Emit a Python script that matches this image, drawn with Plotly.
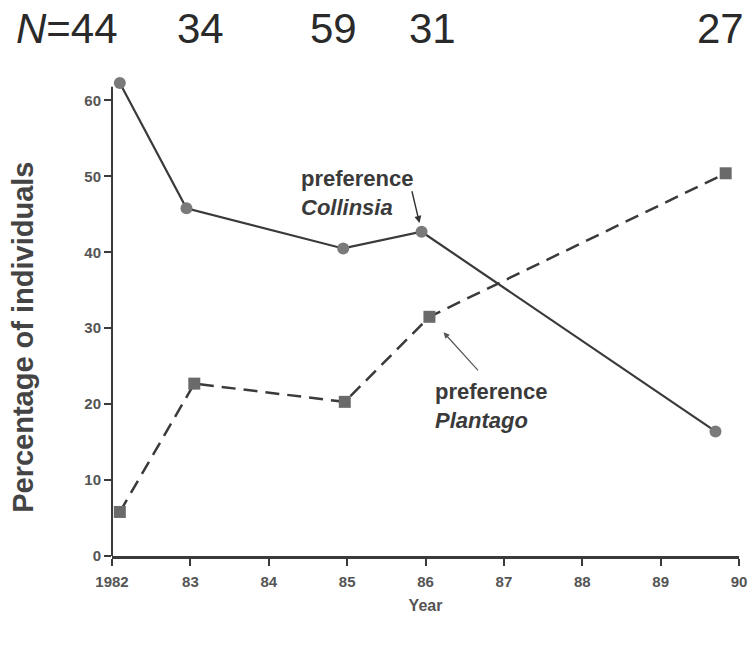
import plotly.graph_objects as go

# Data
col_years = [1982.1, 1982.95, 1984.95, 1985.95, 1989.7]
col_pct = [62.3, 45.8, 40.5, 42.7, 16.4]
pla_years = [1982.1, 1983.05, 1984.97, 1986.05, 1989.83]
pla_pct = [5.8, 22.7, 20.3, 31.5, 50.4]

tick_years = [1982, 1983, 1984, 1985, 1986, 1987, 1988, 1989, 1990]
tick_labels = ["1982", "83", "84", "85", "86", "87", "88", "89", "90"]
y_ticks = [0, 10, 20, 30, 40, 50, 60]

n_labels = ["<i>N</i>=44", "34", "59", "31", "27"]
n_xpix = [67, 200, 333, 432, 720]

OFF = 0  # body margin removed via post_script
W, H = 753, 646
y_max = 64.0
y_line_top = 61.8
unit = (556 - 100.7) / 60.0
ml = 112 - OFF
mr = W - (739 - OFF)
mb = H - (556 - OFF)
mt = (556 - y_max * unit) - OFF
pw = W - ml - mr
ph = H - mt - mb


def px_to_paper(xp, yp):
    """Convert screenshot pixel position to paper coordinates."""
    return ((xp - OFF) - ml) / pw, (H - mb - (yp - OFF)) / ph


font_lbl = "Liberation Sans, Arial, sans-serif"

fig = go.Figure()
fig.add_trace(go.Scatter(
    x=col_years, y=col_pct, mode="lines+markers",
    line=dict(color="#3a3a3a", width=2.2),
    marker=dict(symbol="circle", size=12, color="#7a7a7a"),
    cliponaxis=False, showlegend=False))
fig.add_trace(go.Scatter(
    x=pla_years, y=pla_pct, mode="lines+markers",
    line=dict(color="#3a3a3a", width=2.5, dash="14px,8px"),
    marker=dict(symbol="square", size=12, color="#6a6a6a"),
    cliponaxis=False, showlegend=False))

annotations = []
for lab, xp in zip(n_labels, n_xpix):
    px, py = px_to_paper(xp, 29)
    annotations.append(dict(
        x=px, y=py, xref="paper", yref="paper",
        text=lab, showarrow=False, xanchor="center", yanchor="middle",
        font=dict(family=font_lbl, size=42, color="#2a2a2a")))

# y axis title as annotation
tx, ty = px_to_paper(23, 338)
annotations.append(dict(
    x=tx, y=ty, xref="paper", yref="paper", text="Percentage of individuals",
    textangle=-90, showarrow=False, xanchor="center", yanchor="middle",
    font=dict(family=font_lbl, size=29, color="#444", weight="bold")))

# text labels
cx, cy = px_to_paper(357, 193)
annotations.append(dict(
    x=cx, y=cy, xref="paper", yref="paper",
    text="preference<br><i>Collinsia</i>", showarrow=False, align="left",
    xanchor="center", yanchor="middle",
    font=dict(family=font_lbl, size=22, color="#3a3a3a", weight="bold")))
px_, py_ = px_to_paper(491, 406)
annotations.append(dict(
    x=px_, y=py_, xref="paper", yref="paper",
    text="preference<br><i>Plantago</i>", showarrow=False, align="left",
    xanchor="center", yanchor="middle",
    font=dict(family=font_lbl, size=22, color="#3a3a3a", weight="bold")))
# arrows
annotations.append(dict(
    x=col_years[3], y=col_pct[3], xref="x", yref="y", text="",
    showarrow=True, arrowhead=2, arrowsize=1, arrowwidth=1.4, arrowcolor="#333",
    ax=-10, ay=-42, standoff=9))
annotations.append(dict(
    x=pla_years[3], y=pla_pct[3], xref="x", yref="y", text="",
    showarrow=True, arrowhead=2, arrowsize=1, arrowwidth=1.2, arrowcolor="#555",
    ax=50, ay=55, standoff=21))

tickfont = dict(family=font_lbl, size=15, color="#555", weight="bold")

fig.update_layout(
    width=W, height=H,
    margin=dict(l=ml, r=mr, t=mt, b=mb, autoexpand=False),
    paper_bgcolor="white", plot_bgcolor="white",
    annotations=annotations,
    shapes=[dict(type="line", xref="paper", yref="y", x0=0, x1=0, y0=0, y1=y_line_top,
                 line=dict(color="#3a3a3a", width=2), layer="above")],
    xaxis=dict(
        range=[1982, 1990], tickmode="array", tickvals=tick_years, ticktext=tick_labels,
        showgrid=False, zeroline=False, showline=True, linecolor="#3a3a3a", linewidth=2.5,
        ticks="outside", ticklen=7, tickwidth=2, tickcolor="#3a3a3a",
        tickfont=tickfont, automargin=False, ticklabeloverflow="allow",
        ticklabelstandoff=3,
        title=dict(text="Year", standoff=12,
                   font=dict(family=font_lbl, size=16, color="#555", weight="bold"))),
    yaxis=dict(
        range=[0, y_max], tickmode="array", tickvals=y_ticks,
        showgrid=False, zeroline=False, showline=False,
        ticks="outside", ticklen=7, tickwidth=2, tickcolor="#3a3a3a",
        tickfont=tickfont, automargin=False),
)

fig.write_html(
    "out.html",
    config={"displayModeBar": False},
    post_script="document.body.style.margin='0px';document.body.style.overflow='hidden';")
